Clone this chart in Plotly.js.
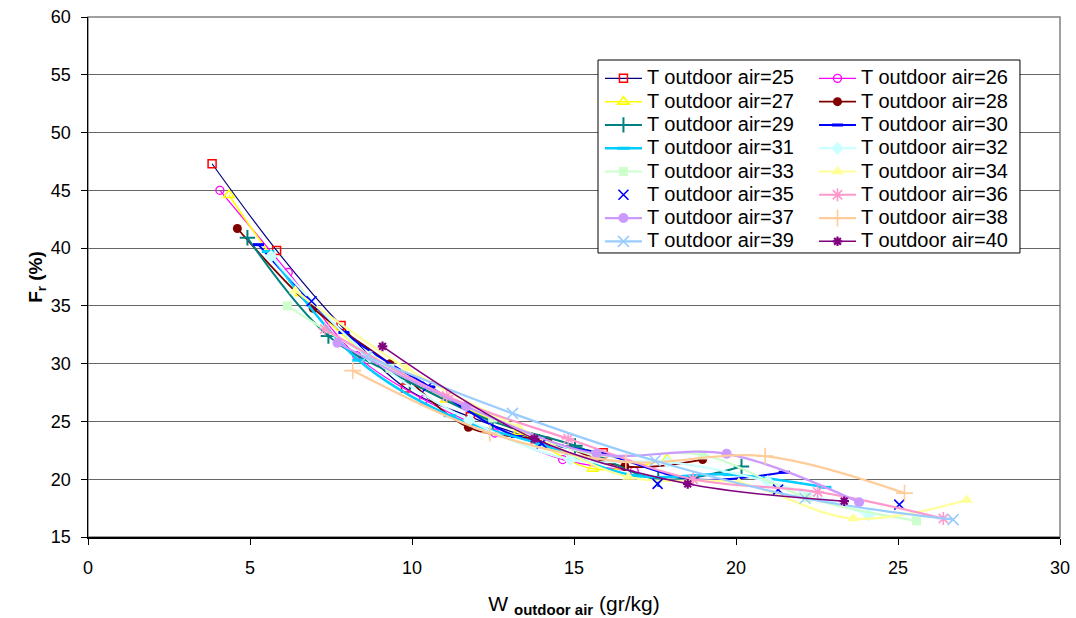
<!DOCTYPE html>
<html>
<head>
<meta charset="utf-8">
<script src="https://cdn.plot.ly/plotly-3.0.1.min.js"></script>
<style>html,body{margin:0;padding:0;background:#fff;}#chart{width:1076px;height:618px;}</style>
</head>
<body>
<div id="chart"></div>
<script>
// ---- data ----
const temps = [25, 26, 27, 28, 29, 30, 31, 32, 33, 34, 35, 36, 37, 38, 39, 40];

const x25 = [3.83, 5.82, 7.81, 9.80, 11.80, 13.80, 15.90];
const y25 = [47.3, 39.8, 33.3, 27.9, 25.4, 23.5, 22.3];
const x26 = [4.07, 6.18, 8.29, 10.36, 12.56, 14.65, 16.86];
const y26 = [45.0, 37.9, 30.7, 26.9, 24.0, 21.7, 20.7];
const x27 = [4.35, 6.57, 8.80, 11.05, 13.30, 15.58, 17.87];
const y27 = [44.6, 36.1, 30.4, 26.9, 24.1, 20.9, 21.7];
const x28 = [4.61, 6.95, 9.32, 11.74, 14.19, 16.57, 18.97];
const y28 = [41.7, 34.8, 30.0, 24.5, 23.3, 21.1, 21.7];
const x29 = [4.92, 7.42, 9.94, 12.49, 15.03, 17.60, 20.17];
const y29 = [40.9, 32.4, 28.4, 25.0, 22.9, 20.0, 21.1];
const x30 = [5.26, 7.90, 10.55, 13.23, 15.90, 18.67, 21.49];
const y30 = [40.3, 32.7, 28.0, 23.7, 22.2, 20.0, 20.6];
const x31 = [5.56, 8.35, 11.17, 14.00, 16.90, 19.80, 22.75];
const y31 = [39.7, 30.3, 25.5, 23.0, 20.3, 20.4, 19.3];
const x32 = [5.65, 8.70, 11.77, 14.88, 17.88, 20.98, 24.10];
const y32 = [39.3, 30.6, 25.1, 21.7, 21.5, 19.8, 16.9];
const x33 = [6.15, 9.32, 12.49, 15.67, 18.97, 22.20, 25.57];
const y33 = [35.0, 29.6, 25.3, 22.1, 22.1, 18.4, 16.4];
const x34 = [6.40, 9.83, 13.28, 16.68, 20.09, 23.62, 27.12];
const y34 = [36.3, 29.6, 24.5, 20.2, 19.7, 16.6, 18.2];
const x35 = [6.90, 10.48, 14.00, 17.58, 21.30, 25.04];
const y35 = [35.4, 28.0, 23.1, 19.6, 19.1, 17.8];
const x36 = [7.31, 11.07, 14.82, 18.68, 22.52, 26.40];
const y36 = [33.0, 27.2, 23.5, 20.0, 18.9, 16.6];
const x37 = [7.70, 11.67, 15.70, 19.71, 23.80];
const y37 = [31.8, 26.3, 22.2, 22.2, 18.0];
const x38 = [8.17, 12.40, 16.60, 20.90, 25.20];
const y38 = [29.4, 24.0, 21.5, 22.0, 18.8];
const x39 = [8.60, 13.10, 17.50, 22.13, 26.70];
const y39 = [30.6, 25.7, 21.6, 18.35, 16.5];
const x40 = [9.09, 13.78, 18.51, 23.34];
const y40 = [31.5, 23.5, 19.6, 18.1];

const xTickVals = [0, 5, 10, 15, 20, 25, 30];
const yTickVals = [15, 20, 25, 30, 35, 40, 45, 50, 55, 60];

const xs = [x25, x26, x27, x28, x29, x30, x31, x32, x33, x34, x35, x36, x37, x38, x39, x40];
const ys = [y25, y26, y27, y28, y29, y30, y31, y32, y33, y34, y35, y36, y37, y38, y39, y40];

// ---- styles ----
const styles = [
  {lc: '#000080', lw: 1.2, sym: 'square-open',      mc: '#FF0000', ms: 8,  mlw: 1.5},
  {lc: '#FF00FF', lw: 1.2, sym: 'circle-open',      mc: '#FF00FF', ms: 8,  mlw: 1.3},
  {lc: '#FFFF00', lw: 1.5, sym: 'triangle-up-open', mc: '#FFFF00', ms: 10, mlw: 1.6},
  {lc: '#800000', lw: 1.8, sym: 'circle',           mc: '#800000', ms: 9,  mlw: 0},
  {lc: '#008080', lw: 2.0, sym: 'cross-thin-open',  mc: '#008080', ms: 11, mlw: 2},
  {lc: '#0000FF', lw: 2.0, sym: 'line-ew-open',     mc: '#0000FF', ms: 8,  mlw: 3},
  {lc: '#00CCFF', lw: 2.5, sym: 'line-ew-open',     mc: '#00CCFF', ms: 9,  mlw: 3},
  {lc: '#CCFFFF', lw: 2.2, sym: 'diamond',          mc: '#CCFFFF', ms: 10, mlw: 0},
  {lc: '#CCFFCC', lw: 2.2, sym: 'square',           mc: '#CCFFCC', ms: 9,  mlw: 0},
  {lc: '#FFFF99', lw: 2.2, sym: 'triangle-up',      mc: '#FFFF99', ms: 11, mlw: 0},
  {lc: '#0000FF', lw: 0,   sym: 'x-thin-open',      mc: '#0000FF', ms: 10, mlw: 1.6, nolines: true},
  {lc: '#FF99CC', lw: 2.2, sym: 'asterisk-open',    mc: '#FF99CC', ms: 11, mlw: 1.6},
  {lc: '#CC99FF', lw: 2.2, sym: 'circle',           mc: '#CC99FF', ms: 10, mlw: 0},
  {lc: '#FFCC99', lw: 2.2, sym: 'cross-thin-open',  mc: '#FFCC99', ms: 12, mlw: 1.6},
  {lc: '#99CCFF', lw: 2.2, sym: 'x-thin-open',      mc: '#99CCFF', ms: 11, mlw: 1.6},
  {lc: '#800080', lw: 1.5, sym: 'asterisk-open',    mc: '#800080', ms: 8,  mlw: 2.2}
];

const traces = temps.map((t, i) => {
  const s = styles[i];
  const tr = {
    type: 'scatter',
    x: xs[i], y: ys[i],
    name: '<span style="font-size:20px">T outdoor air=' + t + '</span>',
    mode: s.nolines ? 'markers' : 'lines+markers',
    legend: (i % 2 === 0) ? 'legend' : 'legend2',
    marker: {symbol: s.sym, size: s.ms, color: s.mc, line: {color: s.mc, width: s.mlw}},
    cliponaxis: false
  };
  if (!s.nolines) tr.line = {color: s.lc, width: s.lw, shape: 'spline', smoothing: 1};
  return tr;
});

const legendCommon = {
  bgcolor: 'rgba(0,0,0,0)', borderwidth: 0,
  font: {family: 'Arial, "Liberation Sans", sans-serif', size: 15.6, color: '#000'},
  yanchor: 'top', xanchor: 'left', y: 0.914, tracegroupgap: 0, itemclick: false,
  itemwidth: 37
};

const layout = {
  width: 1076, height: 618,
  margin: {l: 88, r: 16, t: 17, b: 81},
  paper_bgcolor: '#fff', plot_bgcolor: '#fff',
  font: {family: 'Arial, "Liberation Sans", sans-serif', color: '#000'},
  showlegend: true,
  legend: Object.assign({}, legendCommon, {x: 0.5267}),
  legend2: Object.assign({}, legendCommon, {x: 0.7469}),
  xaxis: {
    range: [0, 30], tickvals: xTickVals, ticktext: xTickVals.map(String),
    showgrid: false, zeroline: false,
    showline: true, linecolor: '#000', linewidth: 1.5,
    ticks: 'outside', ticklen: 6, tickcolor: '#000', tickwidth: 1,
    ticklabelstandoff: 8,
    tickfont: {size: 18, color: '#000'},
    title: {text: 'W <sub><span style="font-size:15px;font-weight:bold">outdoor air</span></sub> (gr/kg)', font: {size: 21, color: '#000'}, standoff: 22}
  },
  yaxis: {
    range: [15, 60], tickvals: yTickVals, ticktext: yTickVals.map(String),
    showgrid: true, gridcolor: '#666', gridwidth: 1, zeroline: false,
    showline: true, linecolor: '#000', linewidth: 1.5,
    ticks: 'outside', ticklen: 6, tickcolor: '#000', tickwidth: 1,
    ticklabelstandoff: 6,
    tickfont: {size: 18, color: '#000'},
    title: {text: '<b>F<sub>r</sub> (%)</b>', font: {size: 19, color: '#000'}, standoff: 3}
  },
  shapes: [
    {type: 'rect', xref: 'paper', yref: 'paper', x0: 0, x1: 1, y0: 0, y1: 1,
     line: {color: '#808080', width: 1.5}, fillcolor: 'rgba(0,0,0,0)', layer: 'below'},
    {type: 'rect', xref: 'paper', yref: 'paper', x0: 0.5247, x1: 0.9588, y0: 0.5462, y1: 0.9173,
     line: {color: '#000', width: 1}, fillcolor: '#fff', layer: 'above'}
  ]
};

Plotly.newPlot('chart', traces, layout, {displayModeBar: false, staticPlot: true});
</script>
</body>
</html>
